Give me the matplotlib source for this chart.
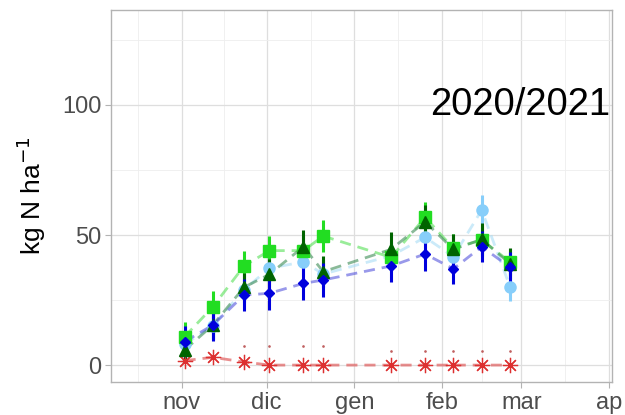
import numpy as np
import matplotlib
matplotlib.use("Agg")
import matplotlib.pyplot as plt
import matplotlib.dates as mdates

plt.rcParams['font.family'] = ['Liberation Sans', 'DejaVu Sans']

# sampling dates (season 2020/2021)
dates = ['2020-11-02', '2020-11-12', '2020-11-23', '2020-12-02', '2020-12-14',
         '2020-12-21', '2021-01-14', '2021-01-26', '2021-02-05', '2021-02-15',
         '2021-02-25']

# series values (kg N / ha)
green_sq   = [10.9, 22.4, 38.1, 44.0, 44.0, 49.6, 41.4, 56.8, 44.9, 48.1, 39.7]
darkg_tri  = [5.8, 15.4, 29.9, 34.9, 45.5, 35.9, 44.5, 55.1, 44.5, 48.3, 39.0]
lblue_circ = [8.0, 15.0, 29.0, 37.2, 39.7, 35.0, 42.0, 49.1, 41.7, 59.6, 30.1]
blue_dia   = [9.0, 15.4, 26.9, 27.6, 31.4, 32.7, 38.1, 42.7, 37.0, 45.5, 37.6]
red_ast    = [1.7, 3.0, 1.2, 0.0, 0.0, 0.0, 0.0, 0.0, 0.0, 0.0, 0.0]
red_top    = [None, None, 7.3, 7.3, 7.3, 7.3, 5.5, 5.5, 5.5, 5.5, 5.5]

green_err = [5.5, 6.0, 5.6, 5.5, 5.5, 6.0, 5.5, 6.0, 5.5, 5.5, 5.0]
darkg_err = [5.0, 5.5, 5.5, 6.0, 6.5, 6.0, 6.5, 6.5, 6.0, 6.5, 6.0]
lblue_err = [5.0, 5.5, 5.5, 5.5, 5.5, 5.5, 5.5, 5.5, 5.5, 5.8, 5.5]
blue_err  = [6.0, 6.0, 6.0, 6.4, 6.5, 6.5, 6.0, 6.5, 6.0, 6.0, 6.0]

x = mdates.datestr2num(dates)

fig = plt.figure(figsize=(6.25, 4.15), dpi=100)
ax = fig.add_axes([0.1776, 0.0795, 0.8014, 0.8965])

series = [
    (lblue_circ, lblue_err, '#87CEFA', '#A9DDF5', 'o', 8),
    (green_sq, green_err, '#22DD22', '#55E055', 's', 8),
    (darkg_tri, darkg_err, '#006400', '#3C8C55', '^', 9),
    (blue_dia, blue_err, '#0000DD', '#5555DD', 'D', 5),
]
for vals, err, c, lc, m, ms in series:
    ax.plot(x, vals, ls=(0, (4, 2.5)), color=lc, lw=2, alpha=0.6, zorder=2)
    ax.errorbar(x, vals, yerr=err, fmt=m, color=c, ms=ms, elinewidth=2.2,
                capsize=0, zorder=3)

ax.plot(x, red_ast, ls=(0, (4, 2.5)), color='#E06060', lw=2, alpha=0.7, zorder=2)
ax.plot(x, red_ast, ls='none', marker=(8, 2, 0), color='#DD3030', ms=11, mew=0.9, zorder=3)
xt = [xi for xi, t in zip(x, red_top) if t is not None]
yt = [t for t in red_top if t is not None]
ax.plot(xt, yt, ls='none', marker='.', color='#C06060', ms=1.8, zorder=3)

ax.text(0.997, (100 + 6.5) / 143, '2020/2021', transform=ax.transAxes,
        ha='right', va='center', fontsize=27.5, color='black')

months = mdates.datestr2num(['2020-10-01', '2020-11-01', '2020-12-01', '2021-01-01',
                             '2021-02-01', '2021-03-01', '2021-04-01'])
month_labels = ['nov', 'dic', 'gen', 'feb', 'mar', 'ap']
ax.set_xticks(months[1:])
ax.set_xticklabels(month_labels)
ax.set_xticks((months[:-1] + months[1:]) / 2, minor=True)
ax.set_xlim(mdates.datestr2num('2020-10-07'), mdates.datestr2num('2021-04-02'))

ax.set_ylim(-6.5, 136.5)
ax.set_yticks([0, 50, 100])
ax.set_yticks([25, 75, 125], minor=True)

ax.grid(True, which='major', color='#DEDEDE', lw=0.9)
ax.grid(True, which='minor', color='#EEEEEE', lw=0.6)
ax.set_axisbelow(True)
ax.tick_params(which='major', length=4, color='#B3B3B3', labelsize=17,
               labelcolor='#4D4D4D', pad=3)
ax.tick_params(which='minor', length=0)
for s in ax.spines.values():
    s.set_color('#B3B3B3')
    s.set_linewidth(1)

ax.set_ylabel('kg N ha$^{-1}$', fontsize=19, labelpad=10)

fig.savefig('out.png', dpi=100)
